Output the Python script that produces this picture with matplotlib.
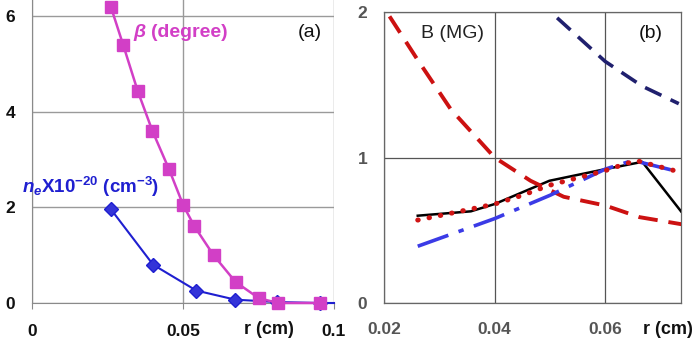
import numpy as np
import matplotlib.pyplot as plt

# --- data (a) ---
r_beta = [0.0261, 0.0302, 0.0350, 0.0399, 0.0454, 0.0501, 0.0538, 0.0601, 0.0674, 0.0751, 0.0815, 0.0953]
beta = [6.19, 5.39, 4.43, 3.59, 2.79, 2.04, 1.60, 1.00, 0.44, 0.10, 0.0, 0.0]

r_ne = [0.0261, 0.0401, 0.0544, 0.0673, 0.0812, 0.0953, 0.1]
ne = [1.96, 0.80, 0.26, 0.07, 0.02, 0.0, 0.0]

# --- data (b) ---
r_red_dash = [0.021, 0.0261, 0.0321, 0.040, 0.0465, 0.0525, 0.060, 0.0662, 0.0740]
b_red_dash = [1.97, 1.67, 1.33, 1.00, 0.84, 0.73, 0.67, 0.59, 0.54]

r_navy = [0.0513, 0.060, 0.0667, 0.0733]
b_navy = [1.96, 1.66, 1.49, 1.37]

r_black = [0.0261, 0.0357, 0.040, 0.0499, 0.060, 0.0667, 0.0737]
b_black = [0.60, 0.63, 0.68, 0.84, 0.92, 0.97, 0.63]

r_dot = [0.0261, 0.030, 0.035, 0.040, 0.045, 0.050, 0.055, 0.060, 0.0655, 0.0735]
b_dot = [0.57, 0.60, 0.64, 0.68, 0.74, 0.81, 0.86, 0.91, 0.98, 0.90]

r_dashdot = [0.0261, 0.040, 0.050, 0.060, 0.065, 0.0735]
b_dashdot = [0.39, 0.58, 0.74, 0.92, 0.98, 0.90]

PINK = "#d23fc6"
BLUE = "#1f1fd0"

plt.rcParams['font.family'] = ['Liberation Sans', 'DejaVu Sans']
plt.rcParams['mathtext.fontset'] = 'custom'
plt.rcParams['mathtext.rm'] = 'Liberation Sans'
plt.rcParams['mathtext.it'] = 'Liberation Sans:italic'
plt.rcParams['mathtext.bf'] = 'Liberation Sans:bold'
plt.rcParams['mathtext.bfit'] = 'Liberation Sans:bold:italic'

fig = plt.figure(figsize=(7, 3.43), dpi=100)

# ===== panel (a) =====
ax1 = fig.add_axes([32/700, 1-303/343, 302/700, 303/343])
ax1.set_xlim(0, 0.1)
ax1.set_ylim(0, 6.33)
ax1.set_xticks([0, 0.05, 0.1])
ax1.set_xticklabels(["0", "0.05", "0.1"])
ax1.set_yticks([0, 2, 4, 6])
ax1.grid(True, color="#9a9a9a", lw=1.0)
ax1.set_axisbelow(True)
for s in ["top", "right"]:
    ax1.spines[s].set_visible(False)
for s in ["left", "bottom"]:
    ax1.spines[s].set_color("#8a8a8a")
ax1.tick_params(axis="x", length=4, color="#8a8a8a", pad=11, labelsize=12.5)
ax1.tick_params(axis="y", length=0, pad=12, labelsize=12.5)
for lab in ax1.get_xticklabels() + ax1.get_yticklabels():
    lab.set_fontweight("bold")
    lab.set_color("#111111")

ax1.plot(r_beta, beta, color=PINK, lw=1.8, marker="s", ms=8, mfc=PINK, mec=PINK,
         clip_on=False, zorder=4)
ax1.plot(r_ne, ne, color=BLUE, lw=1.5, marker="D", ms=7.5, mfc="#3434d8", mec=BLUE,
         markevery=range(6), clip_on=False, zorder=3)

ax1.text(0.0335, 5.65, "β", color=PINK, fontsize=14, fontweight="bold",
         fontstyle="italic", ha="left", va="center")
ax1.text(0.0395, 5.65, "(degree)", color=PINK, fontsize=14, fontweight="bold",
         ha="left", va="center")
ax1.text(0.092, 5.65, "(a)", color="#111111", fontsize=14, ha="center", va="center")
ax1.text(-0.0033, 2.43, r"$\mathbfit{n_e}$X10$^{\mathbf{-20}}$ (cm$^{\mathbf{-3}}$)",
         color=BLUE, fontsize=13.5, fontweight="bold", ha="left", va="center")
ax1.text(0.0785, -0.55, "r (cm)", color="#111111", fontsize=13, fontweight="bold",
         ha="center", va="center", clip_on=False)

# ===== panel (b) =====
ax2 = fig.add_axes([384/700, 1-303/343, 297/700, 291/343])
ax2.set_xlim(0.02, 0.0737)
ax2.set_ylim(0, 2)
ax2.set_xticks([0.02, 0.04, 0.06])
ax2.set_xticklabels(["0.02", "0.04", "0.06"])
ax2.set_yticks([0, 1, 2])
ax2.grid(True, color="#555555", lw=0.9)
ax2.set_axisbelow(True)
for s in ax2.spines.values():
    s.set_color("#666666")
    s.set_linewidth(0.9)
ax2.tick_params(axis="x", length=0, pad=14, labelsize=12.5)
ax2.tick_params(axis="y", length=0, pad=12, labelsize=12.5)
for lab in ax2.get_xticklabels() + ax2.get_yticklabels():
    lab.set_fontweight("bold")
    lab.set_color("#555555")

ax2.plot(r_black, b_black, color="black", lw=1.8, zorder=3)
ax2.plot(r_dashdot, b_dashdot, color="#3b3be6", lw=2.6, dashes=(9, 3, 1.5, 3), zorder=4)
ax2.plot(r_dot, b_dot, color="#d01515", lw=3.6, linestyle=(0, (0.1, 2.2)),
         dash_capstyle="round", zorder=5)
ax2.plot(r_red_dash, b_red_dash, color="#cc1111", lw=2.8, dashes=(5, 2.8), zorder=3)
ax2.plot(r_navy, b_navy, color="#20206e", lw=2.6, dashes=(5, 2.8), zorder=3)

ax2.text(0.0323, 1.855, "B (MG)", color="#222222", fontsize=14, ha="center", va="center")
ax2.text(0.0683, 1.855, "(b)", color="#111111", fontsize=14, ha="center", va="center")
ax2.text(0.0713, -0.185, "r (cm)", color="#111111", fontsize=13, fontweight="bold",
         ha="center", va="center", clip_on=False)

fig.savefig("out.png", dpi=100)
